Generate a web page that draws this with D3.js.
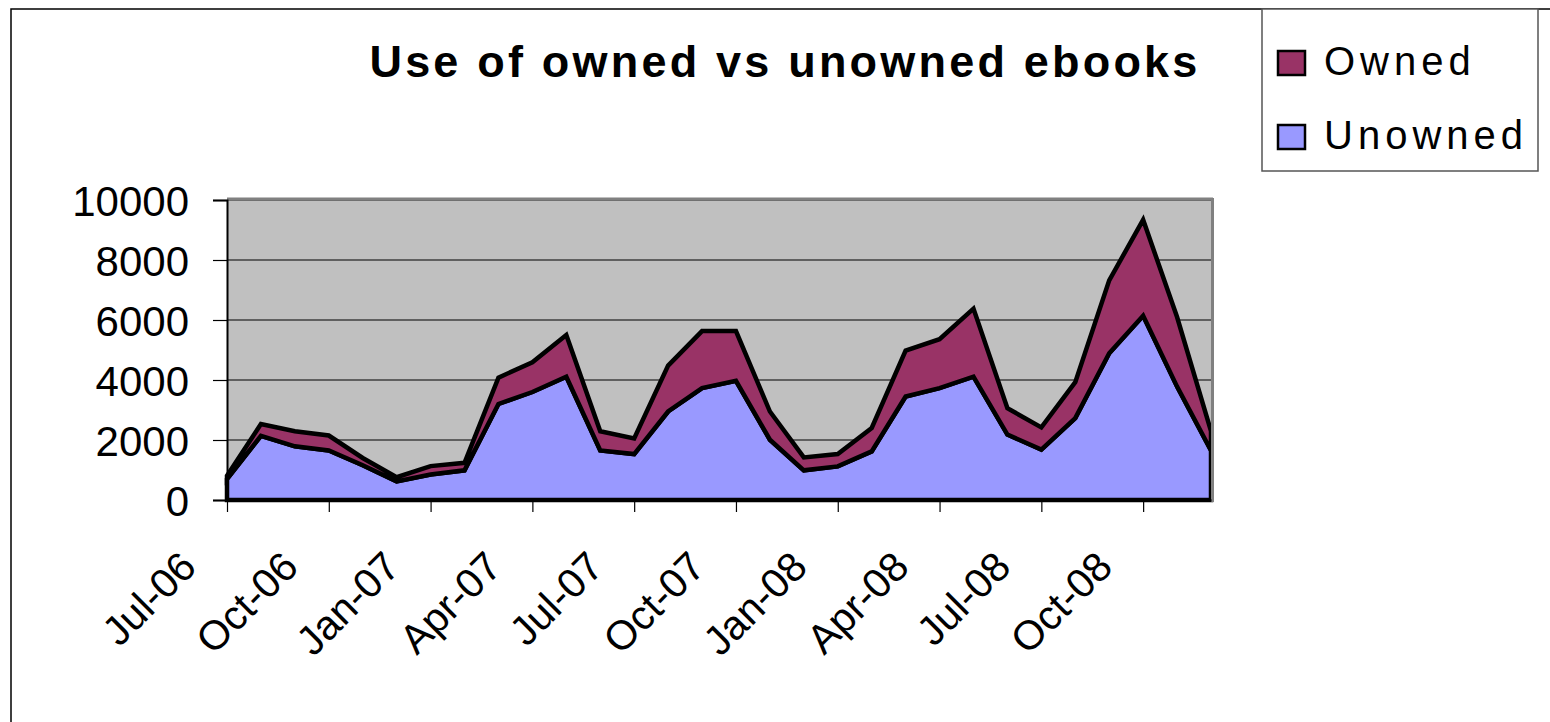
<!DOCTYPE html>
<html>
<head>
<meta charset="utf-8">
<script src="https://cdn.jsdelivr.net/npm/d3@7"></script>
<style>
  body { margin: 0; background: #fff; }
  svg { display: block; font-family: "Liberation Sans", Arial, sans-serif; }
</style>
</head>
<body>
<svg id="chart" width="1550" height="722"></svg>
<script>
// data (monthly, Jul-06 .. Dec-08)
var months = ["Jul-06","Aug-06","Sep-06","Oct-06","Nov-06","Dec-06",
              "Jan-07","Feb-07","Mar-07","Apr-07","May-07","Jun-07",
              "Jul-07","Aug-07","Sep-07","Oct-07","Nov-07","Dec-07",
              "Jan-08","Feb-08","Mar-08","Apr-08","May-08","Jun-08",
              "Jul-08","Aug-08","Sep-08","Oct-08","Nov-08","Dec-08"];
var unowned = [700, 2140, 1790, 1650, 1160, 620, 850, 990, 3200, 3600, 4110, 1650,
               1530, 2950, 3730, 3970, 2010, 990, 1120, 1620, 3450, 3730, 4110, 2180,
               1680, 2730, 4890, 6140, 3780, 1650];
var owned = [110, 390, 500, 500, 240, 140, 280, 250, 880, 990, 1390, 640,
             520, 1530, 1900, 1660, 940, 430, 410, 780, 1530, 1630, 2270, 880,
             740, 1200, 2430, 3200, 2320, 650];
var yTicks = [0, 2000, 4000, 6000, 8000, 10000];
var xTickLabels = ["Jul-06","Oct-06","Jan-07","Apr-07","Jul-07","Oct-07",
                   "Jan-08","Apr-08","Jul-08","Oct-08"];
var seriesNames = ["Owned", "Unowned"];
var seriesColors = {Owned: "#993366", Unowned: "#9999FF"};

var svg = d3.select("#chart");

// outer frame
svg.append("rect")
  .attr("x", 11).attr("y", 9)
  .attr("width", 1700).attr("height", 900)
  .attr("fill", "none").attr("stroke", "#000").attr("stroke-width", 1.5);

var pLeft = 227, pRight = 1211, pTop = 200, pBottom = 500;

var x = d3.scalePoint().domain(months).range([pLeft, pRight]);
var y = d3.scaleLinear().domain([0, 10000]).range([pBottom, pTop]);

// plot background
svg.append("rect")
  .attr("x", pLeft).attr("y", pTop)
  .attr("width", pRight - pLeft).attr("height", pBottom - pTop)
  .attr("fill", "#C0C0C0");

// gridlines
svg.append("g").selectAll("line")
  .data(yTicks.filter(d => d > 0))
  .join("line")
  .attr("x1", pLeft).attr("x2", pRight)
  .attr("y1", d => y(d)).attr("y2", d => y(d))
  .attr("stroke", "#000").attr("stroke-width", 1);

// stacked areas
var table = months.map((m, i) => ({month: m, Unowned: unowned[i], Owned: owned[i]}));
var stack = d3.stack().keys(["Unowned", "Owned"]);
var layers = stack(table);

var area = d3.area()
  .x(d => x(d.data.month))
  .y0(d => y(d[0]))
  .y1(d => y(d[1]));

svg.append("g").selectAll("path")
  .data(layers)
  .join("path")
  .attr("d", area)
  .attr("fill", d => seriesColors[d.key])
  .attr("stroke", "#000")
  .attr("stroke-width", 4.5)
  .attr("stroke-linejoin", "miter");

// plot border (gray top/right)
svg.append("line")
  .attr("x1", pLeft).attr("x2", pRight + 2)
  .attr("y1", pTop - 1).attr("y2", pTop - 1)
  .attr("stroke", "#808080").attr("stroke-width", 3);
svg.append("line")
  .attr("x1", pRight + 1.5).attr("x2", pRight + 1.5)
  .attr("y1", pTop - 2).attr("y2", pBottom + 2)
  .attr("stroke", "#808080").attr("stroke-width", 3);

// y axis
var yAxis = svg.append("g")
  .attr("transform", "translate(" + pLeft + ",0)")
  .call(d3.axisLeft(y).tickValues(yTicks).tickFormat(d3.format("d")).tickSize(14).tickPadding(24));
yAxis.select(".domain").attr("stroke", "#000").attr("stroke-width", 2);
yAxis.selectAll(".tick line").attr("stroke", "#000").attr("stroke-width", 1.2);
yAxis.selectAll("text")
  .attr("font-size", 42).attr("fill", "#000")
  .attr("font-family", "Liberation Sans, Arial, sans-serif")
  .attr("dy", "0.36em");

// x axis
var xAxis = svg.append("g")
  .attr("transform", "translate(0," + pBottom + ")")
  .call(d3.axisBottom(x).tickValues(xTickLabels).tickSize(12).tickSizeOuter(0));
xAxis.select(".domain").attr("stroke", "#000").attr("stroke-width", 2.5);
xAxis.selectAll(".tick line").attr("stroke", "#000").attr("stroke-width", 1.2);
xAxis.selectAll("text")
  .attr("font-size", 41).attr("fill", "#000")
  .attr("font-family", "Liberation Sans, Arial, sans-serif")
  .attr("text-anchor", "end")
  .attr("y", null).attr("dy", null)
  .attr("transform", "translate(-29,69) rotate(-45)");

// title
svg.append("text")
  .attr("x", 785).attr("y", 77)
  .attr("text-anchor", "middle")
  .attr("font-size", 45).attr("font-weight", "bold")
  .attr("letter-spacing", 3.2)
  .text("Use of owned vs unowned ebooks");

// legend
var legend = svg.append("g");
legend.append("rect")
  .attr("x", 1262).attr("y", 9)
  .attr("width", 276).attr("height", 162)
  .attr("fill", "#fff").attr("stroke", "#555").attr("stroke-width", 1.5);

var items = legend.selectAll("g.item")
  .data(seriesNames)
  .join("g")
  .attr("class", "item")
  .attr("transform", (d, i) => "translate(1278," + (51 + i * 74) + ")");
items.append("rect")
  .attr("width", 27).attr("height", 24)
  .attr("fill", d => seriesColors[d])
  .attr("stroke", "#000").attr("stroke-width", 2.5);
items.append("text")
  .attr("x", 46).attr("y", 24)
  .attr("font-size", 40)
  .attr("letter-spacing", 5)
  .text(d => d);
</script>
</body>
</html>
